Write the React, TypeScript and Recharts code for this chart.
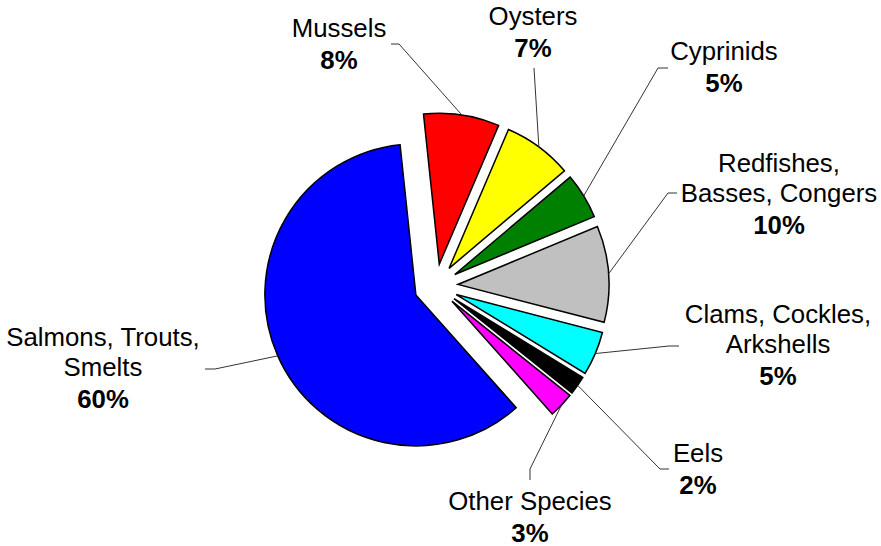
import { Pie, PieChart, Sector } from "recharts";

const species = [
  "Mussels",
  "Oysters",
  "Cyprinids",
  "Redfishes,\nBasses, Congers",
  "Clams, Cockles,\nArkshells",
  "Eels",
  "Other Species",
  "Salmons, Trouts,\nSmelts",
];
const shares = [8.1, 7.4, 4.9, 10.3, 4.7, 2.0, 2.7, 59.9];
const colors = ["#ff0000", "#ffff00", "#008000", "#c0c0c0", "#00ffff", "#000000", "#ff00ff", "#0000ff"];

// where each label sits: text centre x, first baseline y, leader elbow and leader end
const labelSpots = [
  { x: 339, y: 37, elbow: [399, 44], end: [391, 44] },
  { x: 533, y: 25, elbow: [534, 68], end: [534, 68] },
  { x: 724, y: 60, elbow: [658, 68], end: [668, 68] },
  { x: 779, y: 172, elbow: [668, 193], end: [677, 193] },
  { x: 778, y: 323, elbow: [669, 346], end: [679, 346] },
  { x: 698, y: 462, elbow: [660, 469], end: [669, 469] },
  { x: 530, y: 510, elbow: [530, 469], end: [530, 480] },
  { x: 103, y: 346, elbow: [215, 369], end: [205, 369] },
];

const data = species.map((name, i) => ({ name, value: shares[i], color: colors[i] }));

const RAD = Math.PI / 180;
const EXPLODE = 22;
const FONT = "'Liberation Sans', Arial, sans-serif";

function ExplodedSlice(props: any) {
  const { cx, cy, midAngle, payload } = props;
  const dx = EXPLODE * Math.cos(-midAngle * RAD);
  const dy = EXPLODE * Math.sin(-midAngle * RAD);
  return (
    <Sector
      {...props}
      cx={cx + dx}
      cy={cy + dy}
      fill={payload?.color ?? props.fill}
      stroke="#000"
      strokeWidth={1.5}
    />
  );
}

function SliceLabel(props: any) {
  const { cx, cy, midAngle, outerRadius, index, percent } = props;
  const spot = labelSpots[index];
  const r = outerRadius + EXPLODE;
  const sx = cx + r * Math.cos(-midAngle * RAD);
  const sy = cy + r * Math.sin(-midAngle * RAD);
  const lines = species[index].split("\n");
  return (
    <g>
      <polyline
        points={`${sx},${sy} ${spot.elbow[0]},${spot.elbow[1]} ${spot.end[0]},${spot.end[1]}`}
        fill="none"
        stroke="#333"
        strokeWidth={1}
      />
      <text x={spot.x} y={spot.y} textAnchor="middle" fontFamily={FONT} fontSize={25.8} fill="#000">
        {lines.map((ln: string, k: number) => (
          <tspan key={k} x={spot.x} dy={k === 0 ? 0 : 30}>
            {ln}
          </tspan>
        ))}
        <tspan x={spot.x} dy={32} fontWeight="bold">
          {Math.round(percent * 100)}%
        </tspan>
      </text>
    </g>
  );
}

export default function App() {
  return (
    <div style={{ width: 881, height: 546, background: "#fff" }}>
      <style>{"body{margin:0}"}</style>
      <PieChart width={881} height={546} margin={{ top: 0, right: 0, bottom: 0, left: 0 }}>
        <Pie
          data={data}
          dataKey="value"
          nameKey="name"
          cx={436}
          cy={286}
          outerRadius={151}
          startAngle={96}
          endAngle={-264}
          stroke="#000"
          strokeWidth={1.5}
          shape={ExplodedSlice}
          activeShape={ExplodedSlice}
          inactiveShape={ExplodedSlice}
          label={SliceLabel}
          labelLine={false}
          isAnimationActive={false}
        />
      </PieChart>
    </div>
  );
}
